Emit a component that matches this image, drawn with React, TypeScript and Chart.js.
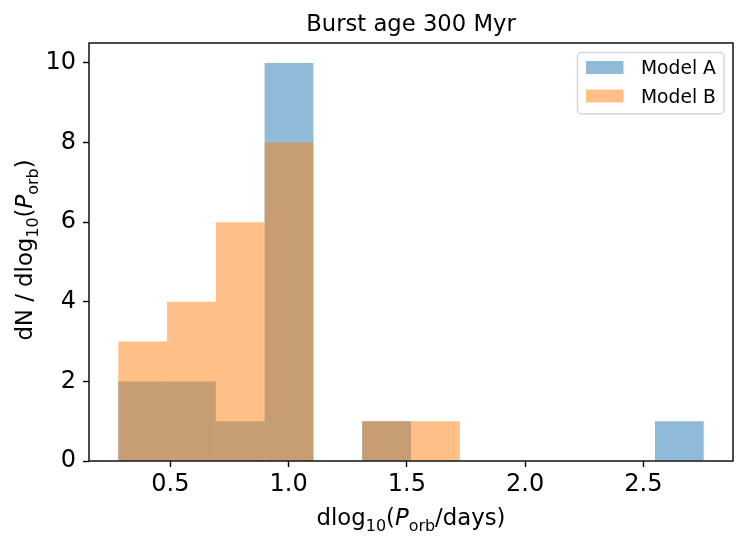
import React, { useEffect, useRef } from 'react';
import { Chart, registerables } from 'chart.js';

Chart.register(...registerables);

// ---- data ----
const binEdges = [0.28, 0.48625, 0.6925, 0.89875, 1.105, 1.31125, 1.5175, 1.72375, 1.93, 2.13625, 2.3425, 2.54875, 2.755];
const modelA = [2, 2, 1, 10, 0, 1, 0, 0, 0, 0, 0, 1];
const modelB = [3, 4, 6, 8, 0, 1, 1, 0, 0, 0, 0, 0];
const seriesNames = ['Model A', 'Model B'];
const xTicks = [0.5, 1.0, 1.5, 2.0, 2.5];
const xTickLabels = ['0.5', '1.0', '1.5', '2.0', '2.5'];
const yTicks = [0, 2, 4, 6, 8, 10];
const yTickLabels = ['0', '2', '4', '6', '8', '10'];
const titleText = 'Burst age 300 Myr';
const xRange = [0.15625, 2.87875];
const yRange = [0, 10.5];

type Seg = { t: string; sub?: boolean; it?: boolean };
const xLabelSegs: Seg[] = [
  { t: 'dlog' }, { t: '10', sub: true }, { t: '(' }, { t: 'P', it: true }, { t: 'orb', sub: true }, { t: '/days)' },
];
const yLabelSegs: Seg[] = [
  { t: 'dN / dlog' }, { t: '10', sub: true }, { t: '(' }, { t: 'P', it: true }, { t: 'orb', sub: true }, { t: ')' },
];

const FAMILY = '"DejaVu Sans", sans-serif';
const colorA = 'rgba(31,119,180,0.5)';
const colorB = 'rgba(255,127,14,0.5)';

const TICK_SIZE = 24;
const LABEL_SIZE = 22.8;
const TITLE_SIZE = 22.7;
const LEGEND_SIZE = 18.7;

function segFont(s: Seg, size: number) {
  const sz = s.sub ? size * 0.7 : size;
  return `${s.it ? 'italic ' : ''}${sz}px ${FAMILY}`;
}

function richWidth(ctx: CanvasRenderingContext2D, segs: Seg[], size: number) {
  let w = 0;
  for (const s of segs) {
    ctx.font = segFont(s, size);
    w += ctx.measureText(s.t).width;
  }
  return w;
}

function drawRich(ctx: CanvasRenderingContext2D, segs: Seg[], size: number, x0: number, y0: number) {
  let x = x0;
  ctx.textBaseline = 'alphabetic';
  ctx.textAlign = 'left';
  for (const s of segs) {
    ctx.font = segFont(s, size);
    const dy = s.sub ? size * 0.28 : 0;
    ctx.fillText(s.t, x, y0 + dy);
    x += ctx.measureText(s.t).width;
  }
}

export default function App() {
  const ref = useRef<HTMLCanvasElement>(null);

  useEffect(() => {
    const canvas = ref.current;
    if (!canvas) return;
    const centers = modelA.map((_, i) => (binEdges[i] + binEdges[i + 1]) / 2);

    const decor = {
      id: 'decor',
      afterDraw(chart: any) {
        const ctx: CanvasRenderingContext2D = chart.ctx;
        const a = chart.chartArea;
        const cx = (a.left + a.right) / 2;
        ctx.save();
        // frame
        ctx.strokeStyle = '#000';
        ctx.lineWidth = 1.4;
        ctx.strokeRect(a.left, a.top, a.right - a.left, a.bottom - a.top);
        ctx.fillStyle = '#000';
        // title, centred over the plot area
        ctx.font = `${TITLE_SIZE}px ${FAMILY}`;
        ctx.textAlign = 'center';
        ctx.textBaseline = 'alphabetic';
        ctx.fillText(titleText, cx, 30.7);
        // x label
        const xw = richWidth(ctx, xLabelSegs, LABEL_SIZE);
        drawRich(ctx, xLabelSegs, LABEL_SIZE, cx - xw / 2, 525);
        // y label (rotated)
        const yw = richWidth(ctx, yLabelSegs, LABEL_SIZE);
        ctx.save();
        ctx.translate(32, (a.top + a.bottom) / 2 - 2);
        ctx.rotate(-Math.PI / 2);
        drawRich(ctx, yLabelSegs, LABEL_SIZE, -yw / 2, 0);
        ctx.restore();
        // legend
        const lx = 577.5, ly = 52.5, lw = 146.5, lh = 61.5, r = 4;
        ctx.beginPath();
        ctx.moveTo(lx + r, ly);
        ctx.arcTo(lx + lw, ly, lx + lw, ly + lh, r);
        ctx.arcTo(lx + lw, ly + lh, lx, ly + lh, r);
        ctx.arcTo(lx, ly + lh, lx, ly, r);
        ctx.arcTo(lx, ly, lx + lw, ly, r);
        ctx.closePath();
        ctx.fillStyle = 'rgba(255,255,255,0.8)';
        ctx.fill();
        ctx.strokeStyle = 'rgba(204,204,204,0.8)';
        ctx.lineWidth = 1.5;
        ctx.stroke();
        const ds = chart.data.datasets;
        const rows = [61, 89.5];
        rows.forEach((ry: number, i: number) => {
          ctx.fillStyle = ds[i].backgroundColor;
          ctx.fillRect(586, ry, 37.5, 13);
          ctx.fillStyle = '#000';
          ctx.font = `${LEGEND_SIZE}px ${FAMILY}`;
          ctx.textBaseline = 'alphabetic';
          ctx.textAlign = 'left';
          ctx.fillText(seriesNames[i], 641, ry + 13.3);
        });
        ctx.restore();
      },
    };

    const tickFont = { family: FAMILY, size: TICK_SIZE };
    const gridOpts = {
      offset: false,
      drawOnChartArea: false,
      drawTicks: true,
      tickLength: 6,
      tickWidth: 1.4,
      color: '#000',
      tickColor: '#000',
    };

    const chart = new Chart(canvas, {
      type: 'bar',
      data: {
        datasets: [
          {
            label: seriesNames[0],
            data: centers.map((x, i) => ({ x, y: modelA[i] })),
            backgroundColor: colorA,
            borderWidth: 0,
            barPercentage: 1,
            categoryPercentage: 1,
            grouped: false,
            inflateAmount: 0,
            order: 2,
          } as any,
          {
            label: seriesNames[1],
            data: centers.map((x, i) => ({ x, y: modelB[i] })),
            backgroundColor: colorB,
            borderWidth: 0,
            barPercentage: 1,
            categoryPercentage: 1,
            grouped: false,
            inflateAmount: 0,
            order: 1,
          } as any,
        ],
      },
      options: {
        responsive: false,
        animation: false,
        devicePixelRatio: 1,
        layout: { padding: { left: 0, right: 15, top: 43, bottom: 0 } },
        plugins: {
          legend: { display: false },
          tooltip: { enabled: false },
          title: { display: false, text: titleText },
        },
        scales: {
          x: {
            type: 'linear',
            min: xRange[0],
            max: xRange[1],
            offset: false,
            afterBuildTicks: (s: any) => {
              s.ticks = xTicks.map((v) => ({ value: v }));
            },
            afterFit: (s: any) => {
              s.height = 83;
            },
            ticks: {
              callback: (_v: any, i: number) => xTickLabels[i],
              font: tickFont,
              color: '#000',
              padding: 3,
              maxRotation: 0,
              autoSkip: false,
            },
            grid: gridOpts,
            border: { display: false },
          },
          y: {
            type: 'linear',
            min: yRange[0],
            max: yRange[1],
            afterBuildTicks: (s: any) => {
              s.ticks = yTicks.map((v) => ({ value: v }));
            },
            afterFit: (s: any) => {
              s.width = 89;
            },
            ticks: {
              callback: (_v: any, i: number) => yTickLabels[i],
              font: tickFont,
              color: '#000',
              padding: 7,
              autoSkip: false,
            },
            grid: gridOpts,
            border: { display: false },
          },
        },
      } as any,
      plugins: [decor],
    });

    return () => chart.destroy();
  }, []);

  return (
    <canvas
      ref={ref}
      width={748}
      height={544}
      style={{ position: 'absolute', left: 0, top: 0, width: 748, height: 544 }}
    />
  );
}
